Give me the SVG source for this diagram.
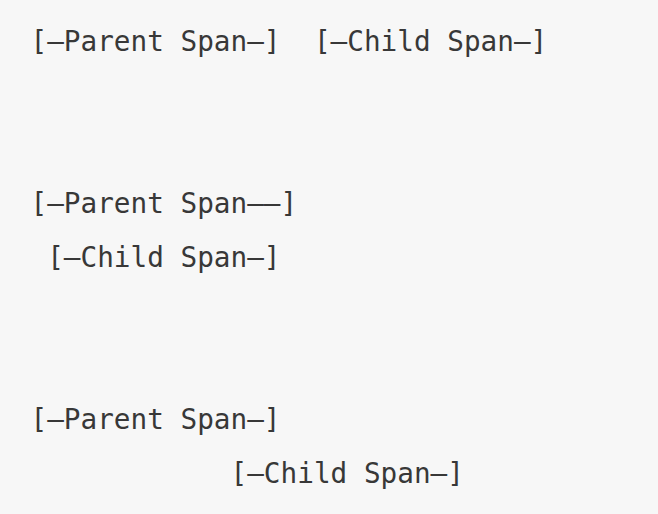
<svg xmlns="http://www.w3.org/2000/svg" width="658" height="514" viewBox="0 0 658 514">
  <style>
    .code { font-family: "DejaVu Sans Mono", monospace; font-size: 27.7px; fill: #383838; white-space: pre; }
  </style>
  <rect x="0" y="0" width="658" height="514" fill="#f7f7f7"/>
  <g id="case-after">
    <text class="code" x="30.5" y="51" xml:space="preserve">[–Parent Span–]  [–Child Span–]</text>
  </g>
  <g id="case-nested">
    <text class="code" x="30.5" y="213" xml:space="preserve">[–Parent Span––]</text>
    <text class="code" x="30.5" y="267" xml:space="preserve"> [–Child Span–]</text>
  </g>
  <g id="case-overlap">
    <text class="code" x="30.5" y="429" xml:space="preserve">[–Parent Span–]</text>
    <text class="code" x="30.5" y="483" xml:space="preserve">            [–Child Span–]</text>
  </g>
</svg>
